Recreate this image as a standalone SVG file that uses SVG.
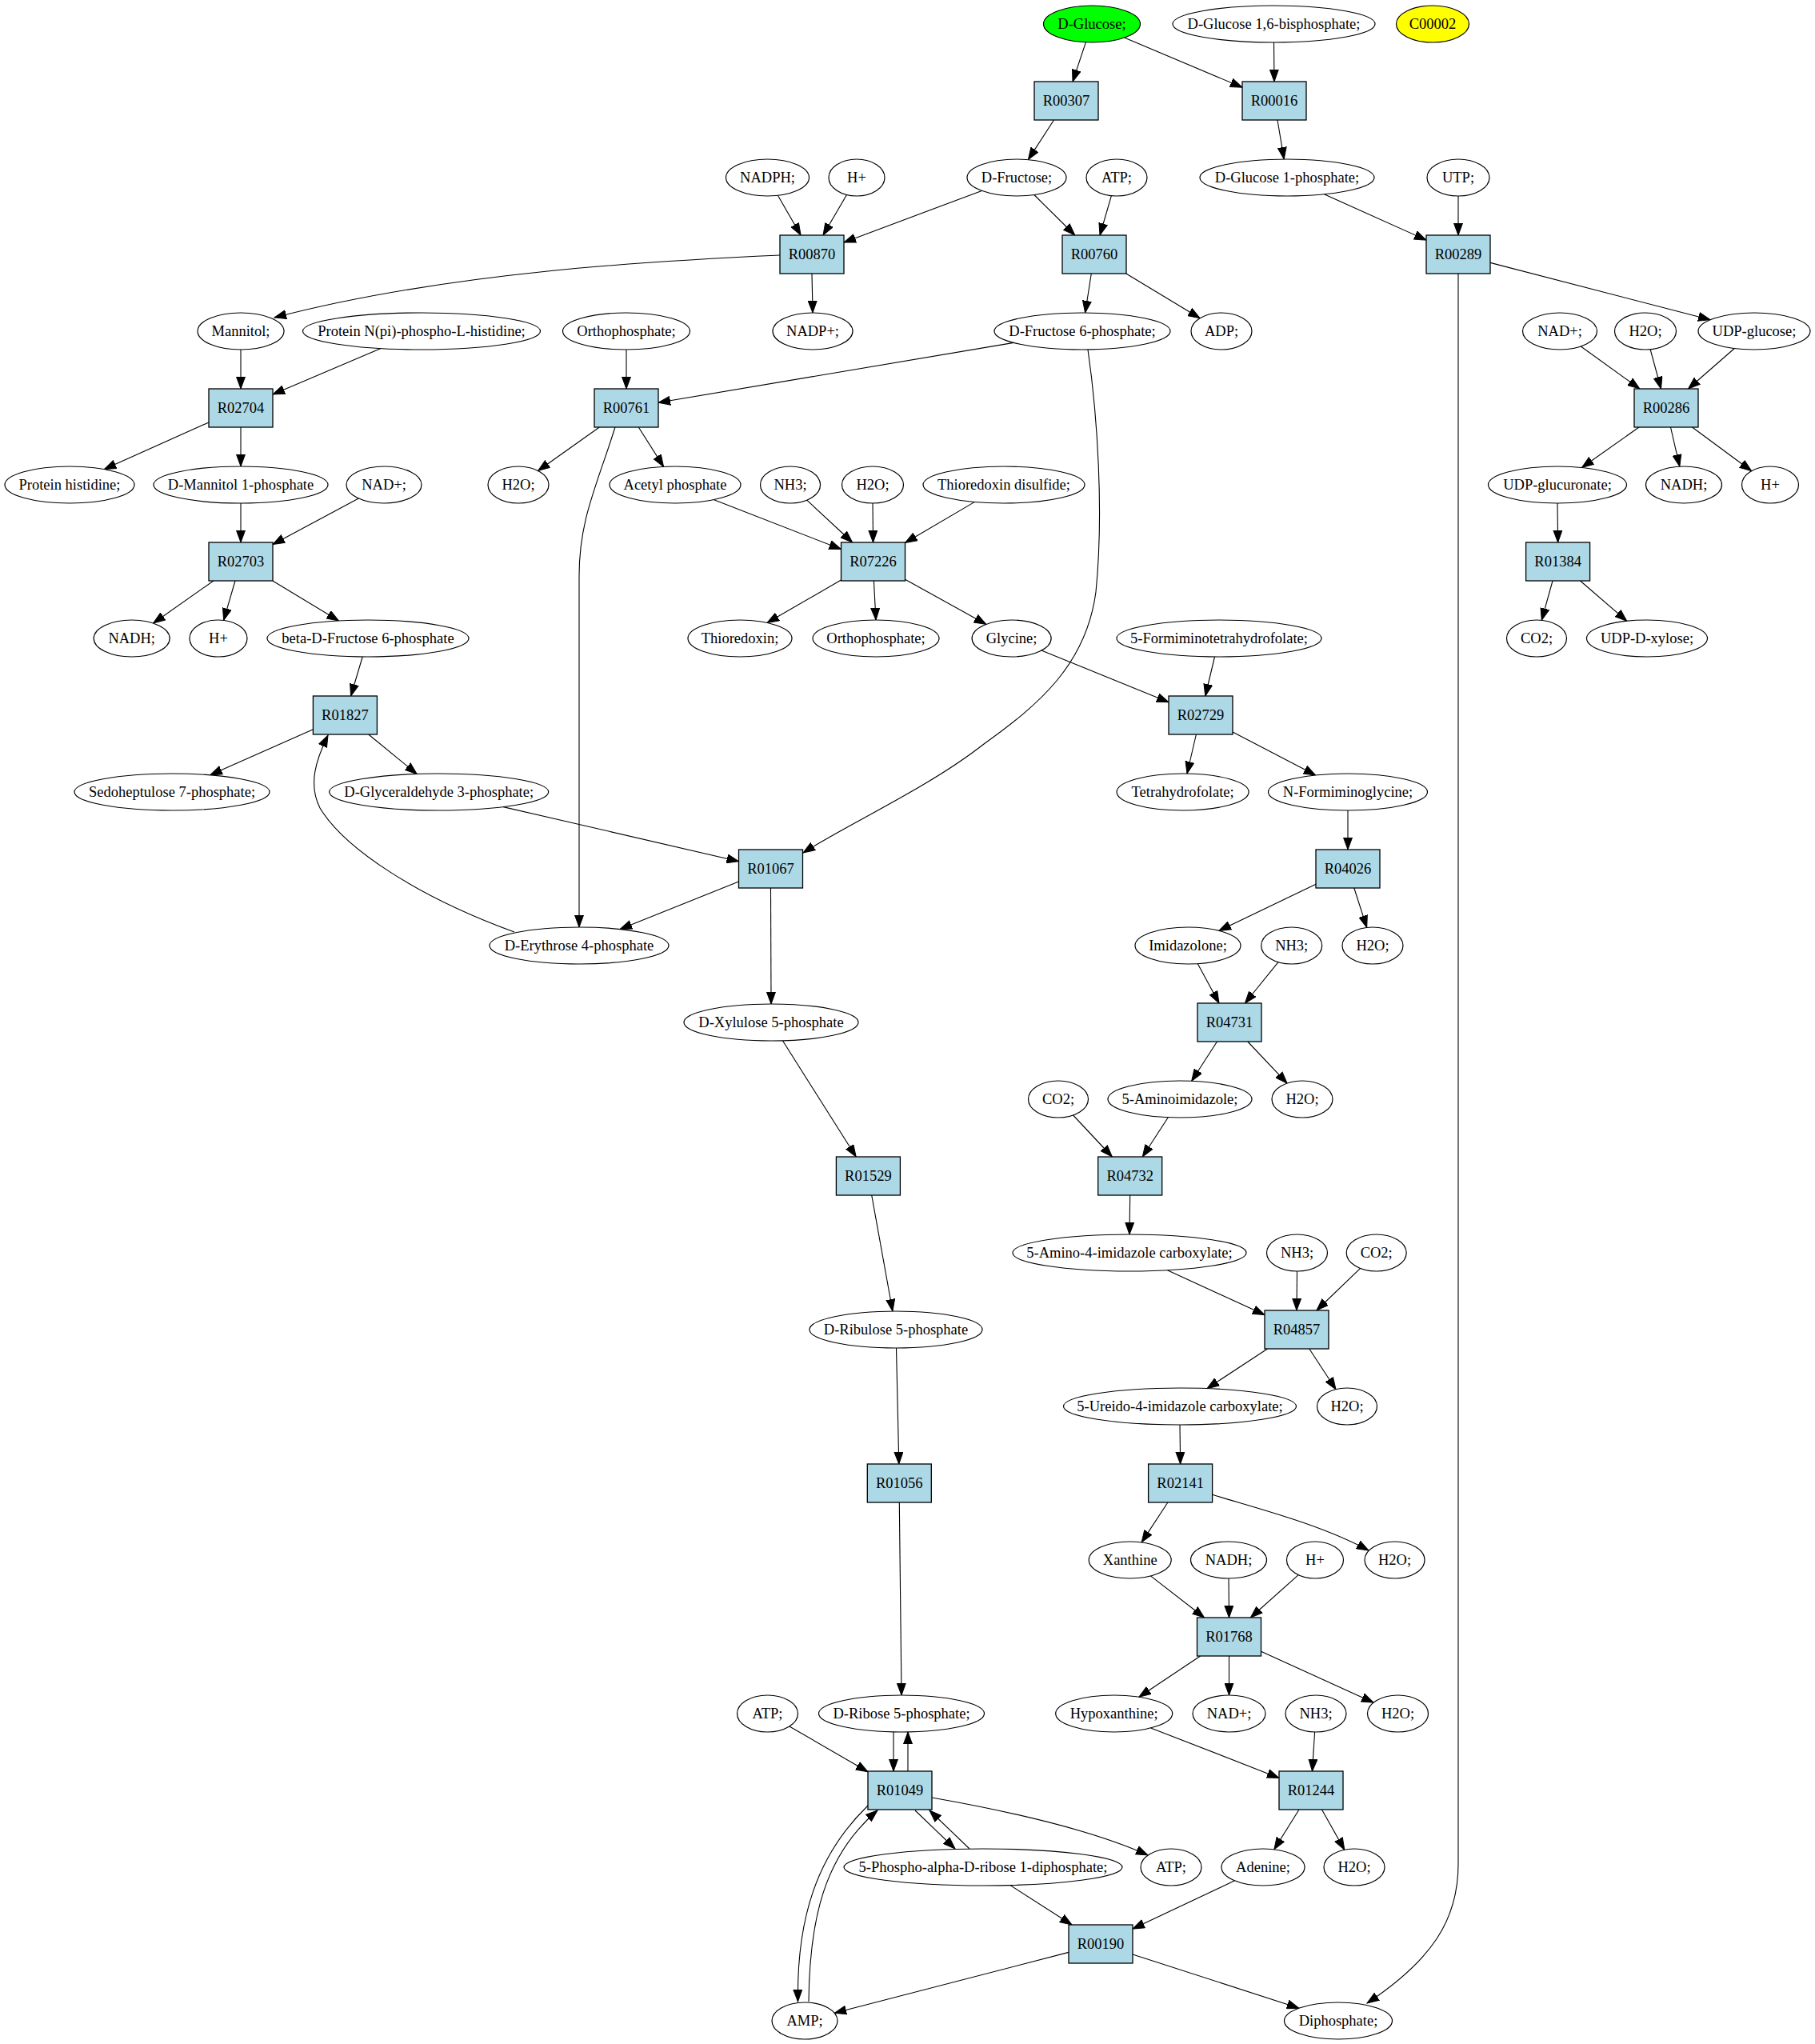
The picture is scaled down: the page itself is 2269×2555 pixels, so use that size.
<svg xmlns="http://www.w3.org/2000/svg" width="2269" height="2555" viewBox="0 0 2269 2555">
<style>
.e{fill:#ffffff;stroke:#000000;stroke-width:1.2}
.b{fill:#add8e6;stroke:#000000;stroke-width:1.3}
.t{font-family:"Liberation Serif","Times New Roman",serif;font-size:18.5px;text-anchor:middle;fill:#000000}
.c path{fill:none;stroke:#000000;stroke-width:1.1;marker-end:url(#ah)}
</style>
<defs>
<marker id="ah" markerUnits="userSpaceOnUse" markerWidth="16" markerHeight="12" refX="15" refY="6" orient="auto">
<path d="M0,0.5 L15,6 L0,11.5 Z" fill="#000000" stroke="#000000" stroke-width="1"/>
</marker>
</defs>
<rect x="0" y="0" width="2269" height="2555" fill="#ffffff"/>
<g id="connectors" class="c">
<path d="M1357.4,52.8 L1341,102"/>
<path d="M1405.5,47.1 L1553,109.2"/>
<path d="M1592.5,53 L1593,102"/>
<path d="M1317.5,150 L1285.4,199.6"/>
<path d="M1597,150 L1605.2,199"/>
<path d="M972.4,244.3 L1001.1,294"/>
<path d="M1058.5,243.5 L1029,294"/>
<path d="M1227.4,238.4 L1055,303"/>
<path d="M1292.8,243.5 L1343.8,294"/>
<path d="M1389.4,244.7 L1375,294"/>
<path d="M1655.4,242.8 L1783,300.1"/>
<path d="M1823,245 L1823,294"/>
<path d="M975,319 C820,326 560,340 343,397"/>
<path d="M1015,342 L1016,391"/>
<path d="M1364.3,342 L1356.6,391"/>
<path d="M1407.8,342 L1500.1,397.8"/>
<path d="M1863,328.4 L2138.1,399.7"/>
<path d="M1823,342 L1823,2330 C1823,2400 1790,2450 1709,2504"/>
<path d="M301,437 L301,486"/>
<path d="M476.1,435.6 L341,493"/>
<path d="M783,437 L783,486"/>
<path d="M1267.3,428.4 L823,503.3"/>
<path d="M1360,437 C1372,520 1380,640 1370,740 C1358,830 1300,880 1230,930 C1160,985 1060,1030 1004,1066"/>
<path d="M1976.3,433 L2049.8,486"/>
<path d="M2063.1,436.7 L2076.5,486"/>
<path d="M2168.3,435.5 L2110.5,486"/>
<path d="M261,527.9 L130.3,586.6"/>
<path d="M301,534 L301,583"/>
<path d="M749.3,534 L672.6,588.5"/>
<path d="M798.3,534 L829.6,583.4"/>
<path d="M769,534 C745,610 724,650 724,720 L724,1159"/>
<path d="M2049,534 L1977.5,584.5"/>
<path d="M2088.5,534 L2099.8,583.1"/>
<path d="M2115.5,534 L2189.6,588.7"/>
<path d="M301,629 L301,678"/>
<path d="M448.3,623 L341,680.5"/>
<path d="M892,624.6 L1051.5,686.5"/>
<path d="M1008.7,625.2 L1065.6,678"/>
<path d="M1091,629 L1091.5,678"/>
<path d="M1218.5,627.4 L1131.5,678.5"/>
<path d="M1947,629 L1947.6,678"/>
<path d="M266.9,726 L191.6,779"/>
<path d="M294,726 L279.6,775.4"/>
<path d="M340.8,726 L423.5,776"/>
<path d="M1051.5,725.1 L959,778.4"/>
<path d="M1092.4,726 L1095,775"/>
<path d="M1131.5,724.2 L1232.8,780.4"/>
<path d="M1941,726 L1927.3,775.3"/>
<path d="M1975.5,726 L2033.8,776.3"/>
<path d="M453.2,821 L438.6,870"/>
<path d="M1301.9,813.1 L1461,877.8"/>
<path d="M1518.5,821 L1506.8,870"/>
<path d="M391.4,911.7 L262.7,968.8"/>
<path d="M460.7,918 L521.2,967.5"/>
<path d="M643,1165 C520,1120 430,1060 400,1010 C385,980 395,950 410,919"/>
<path d="M1495.4,918 L1484,967"/>
<path d="M1541,914.9 L1644.7,969"/>
<path d="M629.1,1008.6 L923.5,1076.7"/>
<path d="M1685,1013 L1685,1062"/>
<path d="M923.5,1102 L775.1,1161.5"/>
<path d="M963.5,1110 L964,1255"/>
<path d="M1645,1105.2 L1523.8,1163.4"/>
<path d="M1692.8,1110 L1708.7,1159.4"/>
<path d="M1497.2,1204.6 L1524,1254"/>
<path d="M1598,1202.7 L1556.4,1254"/>
<path d="M978.4,1300.8 L1070.2,1446"/>
<path d="M1521.5,1302 L1489.7,1351.3"/>
<path d="M1559.8,1302 L1609.1,1354.1"/>
<path d="M1341.6,1394 L1390.3,1446"/>
<path d="M1460.3,1396.7 L1428.3,1446"/>
<path d="M1089.7,1494 L1115.9,1639"/>
<path d="M1412.7,1494 L1412,1543"/>
<path d="M1459.4,1587.8 L1581,1643.6"/>
<path d="M1621.5,1589 L1621,1638"/>
<path d="M1700.6,1585.4 L1645.9,1638"/>
<path d="M1120.5,1685 L1123.8,1830"/>
<path d="M1584.5,1686 L1509,1735.6"/>
<path d="M1636.8,1686 L1670,1736.7"/>
<path d="M1475,1781 L1475.6,1830"/>
<path d="M1124.3,1878 L1127,2119"/>
<path d="M1459.9,1878 L1427.2,1927.9"/>
<path d="M1515.6,1868.3 C1570,1885 1650,1905 1711,1938"/>
<path d="M1438.4,1969.9 L1505.6,2022"/>
<path d="M1536,1973 L1536.5,2022"/>
<path d="M1623.2,1968.6 L1563.4,2022"/>
<path d="M1500.6,2070 L1423.9,2121.2"/>
<path d="M1536.5,2070 L1536.5,2119"/>
<path d="M1576.5,2064.2 L1717.1,2128.2"/>
<path d="M986.9,2157.9 L1085,2214.8"/>
<path d="M1117,2165 L1117,2214"/>
<path d="M1135,2214 L1135,2165"/>
<path d="M1438.6,2159.9 L1599,2222.4"/>
<path d="M1643.6,2165 L1640.5,2214"/>
<path d="M1144,2263 L1194,2311"/>
<path d="M1212,2311 L1162,2263"/>
<path d="M1165,2247 C1250,2262 1360,2285 1435,2319"/>
<path d="M1085,2257 C1020,2320 996,2400 997.5,2502"/>
<path d="M1011,2502 C1012,2400 1030,2320 1097,2263"/>
<path d="M1624,2262 L1592.9,2311.8"/>
<path d="M1652.5,2262 L1680.8,2312.2"/>
<path d="M1263,2356.6 L1340,2406"/>
<path d="M1543.5,2350.8 L1416,2411.1"/>
<path d="M1336,2440.4 L1043.2,2516.3"/>
<path d="M1416,2442.9 L1624,2510.2"/>
</g>
<g id="n_glucose"><ellipse class="e" cx="1365" cy="30" rx="60.5" ry="23" style="fill:#00ff00"/><text class="t" x="1365" y="36">D-Glucose;</text></g>
<g id="n_glucose16bp"><ellipse class="e" cx="1592.5" cy="30" rx="126.5" ry="23"/><text class="t" x="1592.5" y="36">D-Glucose 1,6-bisphosphate;</text></g>
<g id="n_c00002"><ellipse class="e" cx="1791" cy="30" rx="45.5" ry="23" style="fill:#ffff00"/><text class="t" x="1791" y="36">C00002</text></g>
<g id="r_R00307"><rect class="b" x="1293" y="102" width="80" height="48"/><text class="t" x="1333" y="132">R00307</text></g>
<g id="r_R00016"><rect class="b" x="1553" y="102" width="80" height="48"/><text class="t" x="1593" y="132">R00016</text></g>
<g id="n_nadph"><ellipse class="e" cx="959.5" cy="222" rx="52" ry="23"/><text class="t" x="959.5" y="228">NADPH;</text></g>
<g id="n_hplus1"><ellipse class="e" cx="1071" cy="222" rx="35" ry="23"/><text class="t" x="1071" y="228">H+</text></g>
<g id="n_fructose"><ellipse class="e" cx="1271" cy="222" rx="62" ry="23"/><text class="t" x="1271" y="228">D-Fructose;</text></g>
<g id="n_atp1"><ellipse class="e" cx="1396" cy="222" rx="38" ry="23"/><text class="t" x="1396" y="228">ATP;</text></g>
<g id="n_g1p"><ellipse class="e" cx="1609" cy="222" rx="109" ry="23"/><text class="t" x="1609" y="228">D-Glucose 1-phosphate;</text></g>
<g id="n_utp"><ellipse class="e" cx="1823" cy="222" rx="39" ry="23"/><text class="t" x="1823" y="228">UTP;</text></g>
<g id="r_R00870"><rect class="b" x="975" y="294" width="80" height="48"/><text class="t" x="1015" y="324">R00870</text></g>
<g id="r_R00760"><rect class="b" x="1328" y="294" width="80" height="48"/><text class="t" x="1368" y="324">R00760</text></g>
<g id="r_R00289"><rect class="b" x="1783" y="294" width="80" height="48"/><text class="t" x="1823" y="324">R00289</text></g>
<g id="n_mannitol"><ellipse class="e" cx="301" cy="414" rx="54" ry="23"/><text class="t" x="301" y="420">Mannitol;</text></g>
<g id="n_protnpi"><ellipse class="e" cx="527" cy="414" rx="148.5" ry="23"/><text class="t" x="527" y="420">Protein N(pi)-phospho-L-histidine;</text></g>
<g id="n_ortho1"><ellipse class="e" cx="783" cy="414" rx="79.5" ry="23"/><text class="t" x="783" y="420">Orthophosphate;</text></g>
<g id="n_nadpplus"><ellipse class="e" cx="1016" cy="414" rx="50" ry="23"/><text class="t" x="1016" y="420">NADP+;</text></g>
<g id="n_f6p"><ellipse class="e" cx="1353" cy="414" rx="110" ry="23"/><text class="t" x="1353" y="420">D-Fructose 6-phosphate;</text></g>
<g id="n_adp"><ellipse class="e" cx="1527" cy="414" rx="38" ry="23"/><text class="t" x="1527" y="420">ADP;</text></g>
<g id="n_nadplus1"><ellipse class="e" cx="1950" cy="414" rx="46.5" ry="23"/><text class="t" x="1950" y="420">NAD+;</text></g>
<g id="n_h2o1"><ellipse class="e" cx="2057" cy="414" rx="38.5" ry="23"/><text class="t" x="2057" y="420">H2O;</text></g>
<g id="n_udpglucose"><ellipse class="e" cx="2193" cy="414" rx="70" ry="23"/><text class="t" x="2193" y="420">UDP-glucose;</text></g>
<g id="r_R02704"><rect class="b" x="261" y="486" width="80" height="48"/><text class="t" x="301" y="516">R02704</text></g>
<g id="r_R00761"><rect class="b" x="743" y="486" width="80" height="48"/><text class="t" x="783" y="516">R00761</text></g>
<g id="r_R00286"><rect class="b" x="2043" y="486" width="80" height="48"/><text class="t" x="2083" y="516">R00286</text></g>
<g id="n_prothis"><ellipse class="e" cx="87" cy="606" rx="81" ry="23"/><text class="t" x="87" y="612">Protein histidine;</text></g>
<g id="n_dm1p"><ellipse class="e" cx="301" cy="606" rx="109" ry="23"/><text class="t" x="301" y="612">D-Mannitol 1-phosphate</text></g>
<g id="n_nadplus2"><ellipse class="e" cx="480" cy="606" rx="47" ry="23"/><text class="t" x="480" y="612">NAD+;</text></g>
<g id="n_h2o2"><ellipse class="e" cx="648" cy="606" rx="38" ry="23"/><text class="t" x="648" y="612">H2O;</text></g>
<g id="n_acp"><ellipse class="e" cx="844" cy="606" rx="82" ry="23"/><text class="t" x="844" y="612">Acetyl phosphate</text></g>
<g id="n_nh3a"><ellipse class="e" cx="988" cy="606" rx="37.5" ry="23"/><text class="t" x="988" y="612">NH3;</text></g>
<g id="n_h2o3"><ellipse class="e" cx="1091" cy="606" rx="38.5" ry="23"/><text class="t" x="1091" y="612">H2O;</text></g>
<g id="n_trxss"><ellipse class="e" cx="1255" cy="606" rx="101" ry="23"/><text class="t" x="1255" y="612">Thioredoxin disulfide;</text></g>
<g id="n_udpglca"><ellipse class="e" cx="1947" cy="606" rx="86.5" ry="23"/><text class="t" x="1947" y="612">UDP-glucuronate;</text></g>
<g id="n_nadh1"><ellipse class="e" cx="2105" cy="606" rx="47.5" ry="23"/><text class="t" x="2105" y="612">NADH;</text></g>
<g id="n_hplus2"><ellipse class="e" cx="2213" cy="606" rx="35.5" ry="23"/><text class="t" x="2213" y="612">H+</text></g>
<g id="r_R02703"><rect class="b" x="261" y="678" width="80" height="48"/><text class="t" x="301" y="708">R02703</text></g>
<g id="r_R07226"><rect class="b" x="1051.5" y="678" width="80" height="48"/><text class="t" x="1091.5" y="708">R07226</text></g>
<g id="r_R01384"><rect class="b" x="1907.6" y="678" width="80" height="48"/><text class="t" x="1947.6" y="708">R01384</text></g>
<g id="n_nadh2"><ellipse class="e" cx="164.7" cy="798" rx="47.5" ry="23"/><text class="t" x="164.7" y="804">NADH;</text></g>
<g id="n_hplus3"><ellipse class="e" cx="273" cy="798" rx="36" ry="23"/><text class="t" x="273" y="804">H+</text></g>
<g id="n_bf6p"><ellipse class="e" cx="460" cy="798" rx="126" ry="23"/><text class="t" x="460" y="804">beta-D-Fructose 6-phosphate</text></g>
<g id="n_trx"><ellipse class="e" cx="925" cy="798" rx="65" ry="23"/><text class="t" x="925" y="804">Thioredoxin;</text></g>
<g id="n_ortho2"><ellipse class="e" cx="1095" cy="798" rx="79" ry="23"/><text class="t" x="1095" y="804">Orthophosphate;</text></g>
<g id="n_glycine"><ellipse class="e" cx="1264.6" cy="798" rx="49.5" ry="23"/><text class="t" x="1264.6" y="804">Glycine;</text></g>
<g id="n_fthf"><ellipse class="e" cx="1524" cy="798" rx="128" ry="23"/><text class="t" x="1524" y="804">5-Formiminotetrahydrofolate;</text></g>
<g id="n_co2a"><ellipse class="e" cx="1921" cy="798" rx="37.5" ry="23"/><text class="t" x="1921" y="804">CO2;</text></g>
<g id="n_udpxyl"><ellipse class="e" cx="2059" cy="798" rx="75.5" ry="23"/><text class="t" x="2059" y="804">UDP-D-xylose;</text></g>
<g id="r_R01827"><rect class="b" x="391.4" y="870" width="80" height="48"/><text class="t" x="431.4" y="900">R01827</text></g>
<g id="r_R02729"><rect class="b" x="1461" y="870" width="80" height="48"/><text class="t" x="1501" y="900">R02729</text></g>
<g id="n_s7p"><ellipse class="e" cx="215" cy="990" rx="122" ry="23"/><text class="t" x="215" y="996">Sedoheptulose 7-phosphate;</text></g>
<g id="n_gap"><ellipse class="e" cx="548.7" cy="990" rx="137" ry="23"/><text class="t" x="548.7" y="996">D-Glyceraldehyde 3-phosphate;</text></g>
<g id="n_thf"><ellipse class="e" cx="1478.6" cy="990" rx="82.5" ry="23"/><text class="t" x="1478.6" y="996">Tetrahydrofolate;</text></g>
<g id="n_nfg"><ellipse class="e" cx="1685" cy="990" rx="99.5" ry="23"/><text class="t" x="1685" y="996">N-Formiminoglycine;</text></g>
<g id="r_R01067"><rect class="b" x="923.5" y="1062" width="80" height="48"/><text class="t" x="963.5" y="1092">R01067</text></g>
<g id="r_R04026"><rect class="b" x="1645" y="1062" width="80" height="48"/><text class="t" x="1685" y="1092">R04026</text></g>
<g id="n_e4p"><ellipse class="e" cx="724" cy="1182" rx="112" ry="23"/><text class="t" x="724" y="1188">D-Erythrose 4-phosphate</text></g>
<g id="n_imid"><ellipse class="e" cx="1485" cy="1182" rx="66" ry="23"/><text class="t" x="1485" y="1188">Imidazolone;</text></g>
<g id="n_nh3b"><ellipse class="e" cx="1614.7" cy="1182" rx="38" ry="23"/><text class="t" x="1614.7" y="1188">NH3;</text></g>
<g id="n_h2o4"><ellipse class="e" cx="1716" cy="1182" rx="38" ry="23"/><text class="t" x="1716" y="1188">H2O;</text></g>
<g id="n_x5p"><ellipse class="e" cx="964" cy="1278" rx="109" ry="23"/><text class="t" x="964" y="1284">D-Xylulose 5-phosphate</text></g>
<g id="r_R04731"><rect class="b" x="1497" y="1254" width="80" height="48"/><text class="t" x="1537" y="1284">R04731</text></g>
<g id="n_co2b"><ellipse class="e" cx="1323" cy="1374" rx="37.5" ry="23"/><text class="t" x="1323" y="1380">CO2;</text></g>
<g id="n_ai"><ellipse class="e" cx="1475" cy="1374" rx="90" ry="23"/><text class="t" x="1475" y="1380">5-Aminoimidazole;</text></g>
<g id="n_h2o5"><ellipse class="e" cx="1628" cy="1374" rx="38" ry="23"/><text class="t" x="1628" y="1380">H2O;</text></g>
<g id="r_R01529"><rect class="b" x="1045.4" y="1446" width="80" height="48"/><text class="t" x="1085.4" y="1476">R01529</text></g>
<g id="r_R04732"><rect class="b" x="1372.7" y="1446" width="80" height="48"/><text class="t" x="1412.7" y="1476">R04732</text></g>
<g id="n_aicx"><ellipse class="e" cx="1412" cy="1566" rx="146" ry="23"/><text class="t" x="1412" y="1572">5-Amino-4-imidazole carboxylate;</text></g>
<g id="n_nh3c"><ellipse class="e" cx="1621.5" cy="1566" rx="38" ry="23"/><text class="t" x="1621.5" y="1572">NH3;</text></g>
<g id="n_co2c"><ellipse class="e" cx="1720.7" cy="1566" rx="37.5" ry="23"/><text class="t" x="1720.7" y="1572">CO2;</text></g>
<g id="n_ru5p"><ellipse class="e" cx="1120" cy="1662" rx="108" ry="23"/><text class="t" x="1120" y="1668">D-Ribulose 5-phosphate</text></g>
<g id="r_R04857"><rect class="b" x="1581" y="1638" width="80" height="48"/><text class="t" x="1621" y="1668">R04857</text></g>
<g id="n_uicx"><ellipse class="e" cx="1475" cy="1758" rx="145.5" ry="23"/><text class="t" x="1475" y="1764">5-Ureido-4-imidazole carboxylate;</text></g>
<g id="n_h2o6"><ellipse class="e" cx="1684" cy="1758" rx="37.5" ry="23"/><text class="t" x="1684" y="1764">H2O;</text></g>
<g id="r_R01056"><rect class="b" x="1084.3" y="1830" width="80" height="48"/><text class="t" x="1124.3" y="1860">R01056</text></g>
<g id="r_R02141"><rect class="b" x="1435.6" y="1830" width="80" height="48"/><text class="t" x="1475.6" y="1860">R02141</text></g>
<g id="n_xanthine"><ellipse class="e" cx="1412.7" cy="1950" rx="51.5" ry="23"/><text class="t" x="1412.7" y="1956">Xanthine</text></g>
<g id="n_nadh3"><ellipse class="e" cx="1536" cy="1950" rx="47.5" ry="23"/><text class="t" x="1536" y="1956">NADH;</text></g>
<g id="n_hplus4"><ellipse class="e" cx="1644" cy="1950" rx="35.5" ry="23"/><text class="t" x="1644" y="1956">H+</text></g>
<g id="n_h2o7"><ellipse class="e" cx="1743.5" cy="1950" rx="37.5" ry="23"/><text class="t" x="1743.5" y="1956">H2O;</text></g>
<g id="r_R01768"><rect class="b" x="1496.5" y="2022" width="80" height="48"/><text class="t" x="1536.5" y="2052">R01768</text></g>
<g id="n_atp2"><ellipse class="e" cx="959.5" cy="2142" rx="38" ry="23"/><text class="t" x="959.5" y="2148">ATP;</text></g>
<g id="n_r5p"><ellipse class="e" cx="1127" cy="2142" rx="103.5" ry="23"/><text class="t" x="1127" y="2148">D-Ribose 5-phosphate;</text></g>
<g id="n_hypox"><ellipse class="e" cx="1392.7" cy="2142" rx="73" ry="23"/><text class="t" x="1392.7" y="2148">Hypoxanthine;</text></g>
<g id="n_nadplus3"><ellipse class="e" cx="1536.5" cy="2142" rx="45.5" ry="23"/><text class="t" x="1536.5" y="2148">NAD+;</text></g>
<g id="n_nh3d"><ellipse class="e" cx="1645" cy="2142" rx="38" ry="23"/><text class="t" x="1645" y="2148">NH3;</text></g>
<g id="n_h2o8"><ellipse class="e" cx="1747.5" cy="2142" rx="38" ry="23"/><text class="t" x="1747.5" y="2148">H2O;</text></g>
<g id="r_R01049"><rect class="b" x="1085" y="2214" width="80" height="48"/><text class="t" x="1125" y="2244">R01049</text></g>
<g id="r_R01244"><rect class="b" x="1599" y="2214" width="80" height="48"/><text class="t" x="1639" y="2244">R01244</text></g>
<g id="n_prpp"><ellipse class="e" cx="1229" cy="2334" rx="174" ry="23"/><text class="t" x="1229" y="2340">5-Phospho-alpha-D-ribose 1-diphosphate;</text></g>
<g id="n_atp3"><ellipse class="e" cx="1464" cy="2334" rx="38" ry="23"/><text class="t" x="1464" y="2340">ATP;</text></g>
<g id="n_adenine"><ellipse class="e" cx="1579" cy="2334" rx="52" ry="23"/><text class="t" x="1579" y="2340">Adenine;</text></g>
<g id="n_h2o9"><ellipse class="e" cx="1693" cy="2334" rx="38" ry="23"/><text class="t" x="1693" y="2340">H2O;</text></g>
<g id="r_R00190"><rect class="b" x="1336" y="2406" width="80" height="48"/><text class="t" x="1376" y="2436">R00190</text></g>
<g id="n_amp"><ellipse class="e" cx="1006" cy="2526" rx="41" ry="23"/><text class="t" x="1006" y="2532">AMP;</text></g>
<g id="n_diphosphate"><ellipse class="e" cx="1673" cy="2526" rx="67.5" ry="23"/><text class="t" x="1673" y="2532">Diphosphate;</text></g>
</svg>
